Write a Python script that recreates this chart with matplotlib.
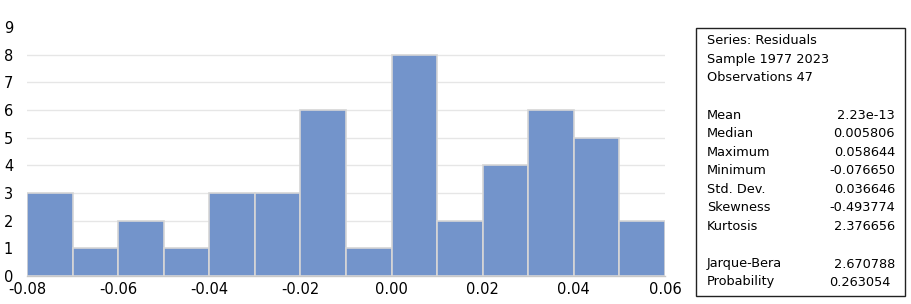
import matplotlib
matplotlib.use("Agg")
import matplotlib.pyplot as plt
import numpy as np
from matplotlib.patches import Rectangle

bin_edges = [-0.08, -0.07, -0.06, -0.05, -0.04, -0.03, -0.02, -0.01,
             0.00, 0.01, 0.02, 0.03, 0.04, 0.05, 0.06]
counts = [3, 1, 2, 1, 3, 3, 6, 1, 8, 2, 4, 6, 5, 2]
x_ticks = [-0.08, -0.06, -0.04, -0.02, 0.00, 0.02, 0.04, 0.06]
x_tick_labels = ["-0.08", "-0.06", "-0.04", "-0.02", "0.00", "0.02", "0.04", "0.06"]
y_ticks = list(range(0, 10))

header_lines = ["Series: Residuals", "Sample 1977 2023", "Observations 47"]
stat_names = ["Mean", "Median", "Maximum", "Minimum", "Std. Dev.", "Skewness", "Kurtosis"]
stat_values = ["2.23e-13", "0.005806", "0.058644", "-0.076650", "0.036646", "-0.493774", "2.376656"]
test_names = ["Jarque-Bera", "Probability"]
test_values = ["2.670788", "0.263054"]

W, H = 911, 304
fig = plt.figure(figsize=(W / 100, H / 100), dpi=100)
ax = fig.add_axes([27 / W, 1 - 276 / H, (665 - 27) / W, (276 - 27) / H])

widths = np.diff(bin_edges)
ax.bar(bin_edges[:-1], counts, width=widths, align="edge",
       color="#7394CB", edgecolor="#D6D6D6", linewidth=1.2, zorder=3)

ax.set_xlim(bin_edges[0], bin_edges[-1])
ax.set_ylim(0, 9)
ax.set_xticks(x_ticks)
ax.set_xticklabels(x_tick_labels)
ax.set_yticks(y_ticks)
for yv in y_ticks[1:-1]:
    ax.axhline(yv, color="#E6E6E6", linewidth=1.0, zorder=1)
for s in ["top", "right", "left"]:
    ax.spines[s].set_visible(False)
ax.spines["bottom"].set_color("#C8C8C8")
ax.spines["bottom"].set_linewidth(1.0)
ax.tick_params(axis="both", length=0, labelsize=10.5, colors="black")
ax.tick_params(axis="x", pad=4)
ax.tick_params(axis="y", pad=10)

# Statistics box
box_l, box_t, box_r, box_b = 696, 28, 905, 296
fig.patches.append(Rectangle((box_l / W, 1 - box_b / H), (box_r - box_l) / W, (box_b - box_t) / H,
                             transform=fig.transFigure, fill=False, edgecolor="#222222",
                             linewidth=1.0))
fs = 9.3
fam = "DejaVu Sans"
tx = 707 / W
vx = 895 / W
header_y = [40.7, 59.3, 77.7]
for t, yy in zip(header_lines, header_y):
    fig.text(tx, 1 - yy / H, t, fontsize=fs, family=fam, va="center", ha="left")
stat_y = [115.7, 133.7, 152.7, 170.7, 189.3, 207.3, 226.3]
for n, v, yy in zip(stat_names, stat_values, stat_y):
    fig.text(tx, 1 - yy / H, n, fontsize=fs, family=fam, va="center", ha="left")
    fig.text(vx, 1 - yy / H, v, fontsize=fs, family=fam, va="center", ha="right")
test_y = [264, 282]
for n, v, yy in zip(test_names, test_values, test_y):
    fig.text(tx, 1 - yy / H, n, fontsize=fs, family=fam, va="center", ha="left")
    fig.text(vx if n != "Probability" else 891 / W, 1 - yy / H, v, fontsize=fs,
             family=fam, va="center", ha="right")

fig.savefig("out.png", dpi=100)
